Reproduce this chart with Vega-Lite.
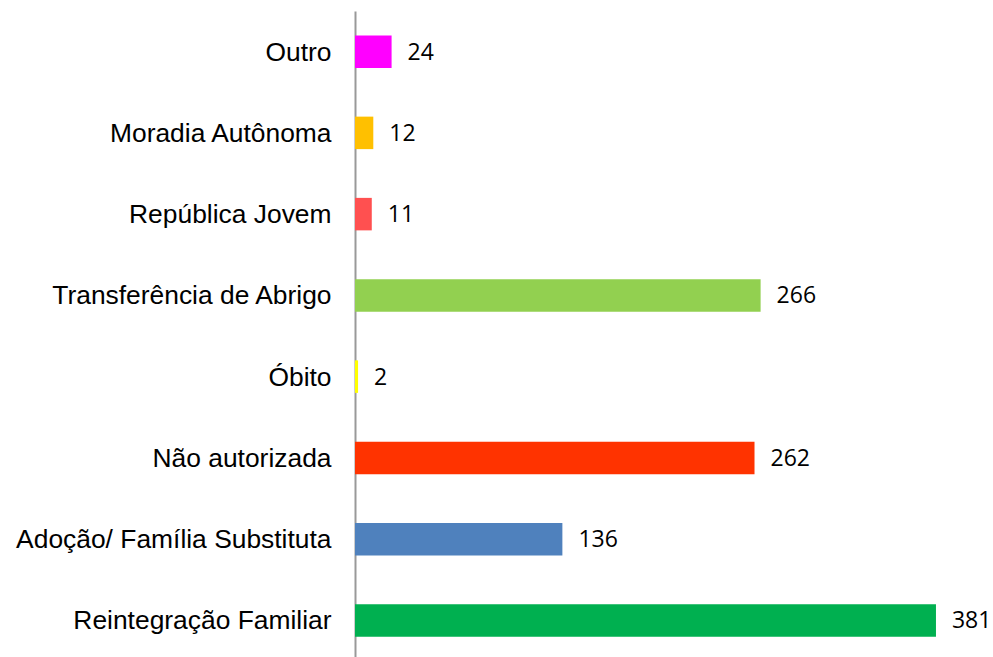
{
  "$schema": "https://vega.github.io/schema/vega-lite/v6.json",
  "autosize": {"type": "none"},
  "padding": {"left": 355, "top": 11, "right": 0, "bottom": 0},
  "width": 638,
  "height": 650,
  "background": "white",
  "config": {"view": {"stroke": null}},
  "data": {"values": [
    {"cat": "Outro", "value": 24, "color": "#FF00FF"},
    {"cat": "Moradia Autônoma", "value": 12, "color": "#FFC000"},
    {"cat": "República Jovem", "value": 11, "color": "#FF5050"},
    {"cat": "Transferência de Abrigo", "value": 266, "color": "#92D050"},
    {"cat": "Óbito", "value": 2, "color": "#FFFF00"},
    {"cat": "Não autorizada", "value": 262, "color": "#FF3300"},
    {"cat": "Adoção/ Família Substituta", "value": 136, "color": "#4F81BD"},
    {"cat": "Reintegração Familiar", "value": 381, "color": "#00B050"}
  ]},
  "encoding": {
    "y": {"field": "cat", "type": "nominal", "sort": null,
      "scale": {"paddingInner": 0.6, "paddingOuter": 0.3},
      "axis": {"title": null, "ticks": false, "domain": true, "domainColor": "#999999", "domainWidth": 2,
        "labelFont": "Liberation Sans", "labelFontSize": 26.4, "labelColor": "#000000", "labelPadding": 24, "labelLimit": 400, "labelOffset": 1}},
    "x": {"field": "value", "type": "quantitative", "scale": {"domain": [0, 418.4], "nice": false}, "axis": null}
  },
  "layer": [
    {"mark": {"type": "bar"}, "encoding": {"color": {"field": "color", "type": "nominal", "scale": null}}},
    {"mark": {"type": "text", "align": "left", "baseline": "middle", "dx": 16, "dy": 1, "font": "Open Sans", "fontSize": 23, "color": "#000000"},
      "encoding": {"text": {"field": "value", "type": "quantitative"}}}
  ]
}
